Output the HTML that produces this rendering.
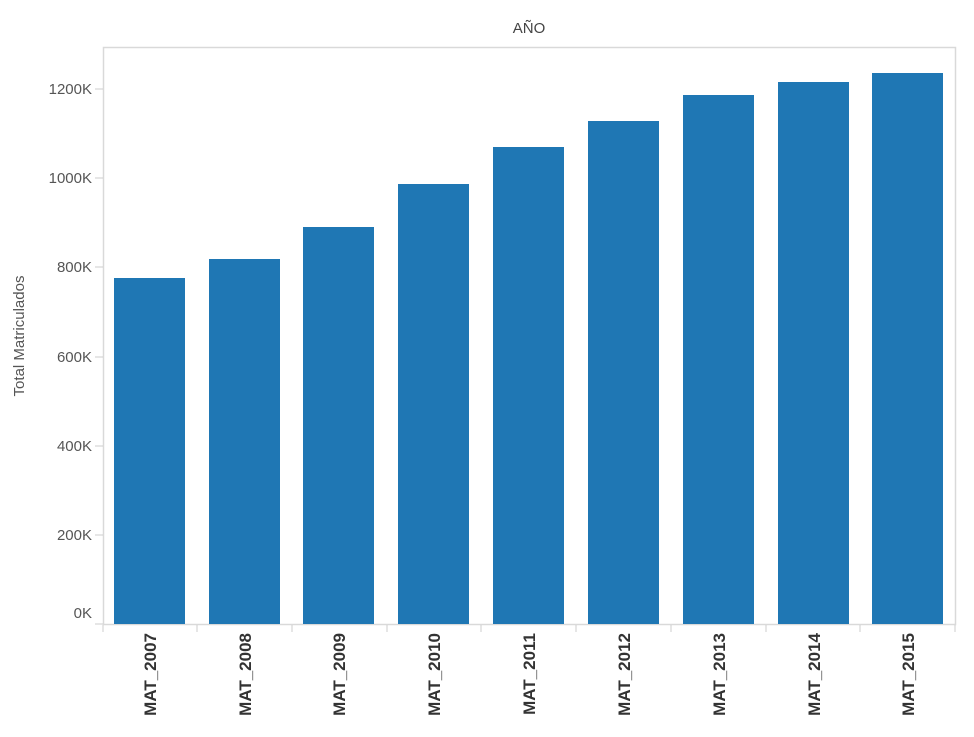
<!DOCTYPE html>
<html><head><meta charset="utf-8"><style>
body{margin:0;background:#fff;width:974px;height:732px;overflow:hidden}
text{font-family:"Liberation Sans",Arial,sans-serif}
</style></head><body>
<svg width="974" height="732" xmlns="http://www.w3.org/2000/svg">
<rect x="103.5" y="47.5" width="852" height="577" fill="none" stroke="#d9d9d9" stroke-width="1.5"/>
<text x="529" y="33" font-size="15" fill="#444" text-anchor="middle">AÑO</text>
<text transform="translate(24,336) rotate(-90)" font-size="15" fill="#555" text-anchor="middle">Total Matriculados</text>
<g font-size="15" fill="#555" text-anchor="end" stroke="#ccc">
<line x1="95" x2="103" y1="89" y2="89"/><text stroke="none" x="92" y="94">1200K</text>
<line x1="95" x2="103" y1="178" y2="178"/><text stroke="none" x="92" y="183">1000K</text>
<line x1="95" x2="103" y1="267" y2="267"/><text stroke="none" x="92" y="272">800K</text>
<line x1="95" x2="103" y1="357" y2="357"/><text stroke="none" x="92" y="362">600K</text>
<line x1="95" x2="103" y1="446" y2="446"/><text stroke="none" x="92" y="451">400K</text>
<line x1="95" x2="103" y1="535" y2="535"/><text stroke="none" x="92" y="540">200K</text>
<line x1="95" x2="103" y1="624" y2="624"/><text stroke="none" x="92" y="618">0K</text>
</g>
<g fill="#1f77b4">
<rect x="114" y="278" width="71" height="346"/>
<rect x="209" y="259" width="71" height="365"/>
<rect x="303" y="227" width="71" height="397"/>
<rect x="398" y="184" width="71" height="440"/>
<rect x="493" y="147" width="71" height="477"/>
<rect x="588" y="121" width="71" height="503"/>
<rect x="683" y="95" width="71" height="529"/>
<rect x="778" y="82" width="71" height="542"/>
<rect x="872" y="73" width="71" height="551"/>
</g>
<g stroke="#ccc">
<line x1="103" x2="103" y1="625" y2="632"/><line x1="197" x2="197" y1="625" y2="632"/><line x1="292" x2="292" y1="625" y2="632"/><line x1="387" x2="387" y1="625" y2="632"/><line x1="481" x2="481" y1="625" y2="632"/><line x1="576" x2="576" y1="625" y2="632"/><line x1="671" x2="671" y1="625" y2="632"/><line x1="766" x2="766" y1="625" y2="632"/><line x1="860" x2="860" y1="625" y2="632"/><line x1="955" x2="955" y1="625" y2="632"/>
</g>
<g font-size="17" font-weight="bold" fill="#333" text-anchor="end">
<text transform="translate(156,633) rotate(-90)">MAT_2007</text>
<text transform="translate(251,633) rotate(-90)">MAT_2008</text>
<text transform="translate(345,633) rotate(-90)">MAT_2009</text>
<text transform="translate(440,633) rotate(-90)">MAT_2010</text>
<text transform="translate(535,633) rotate(-90)">MAT_2011</text>
<text transform="translate(630,633) rotate(-90)">MAT_2012</text>
<text transform="translate(725,633) rotate(-90)">MAT_2013</text>
<text transform="translate(820,633) rotate(-90)">MAT_2014</text>
<text transform="translate(914,633) rotate(-90)">MAT_2015</text>
</g>
</svg>
</body></html>
